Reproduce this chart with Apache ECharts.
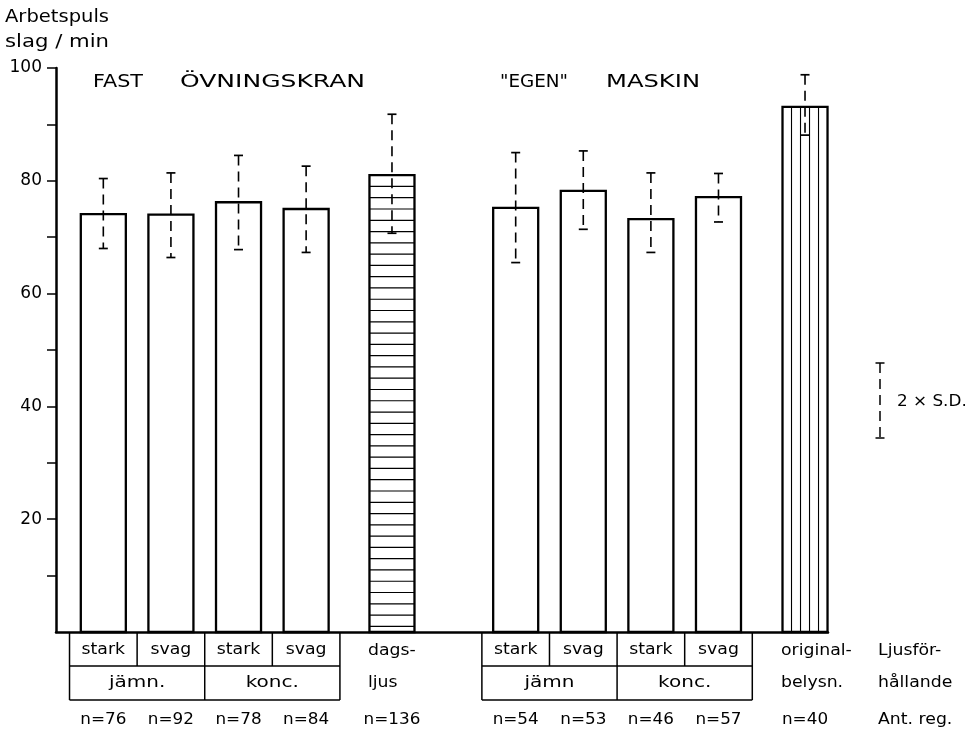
<!DOCTYPE html>
<html><head><meta charset="utf-8">
<script src="https://cdn.jsdelivr.net/npm/echarts@6/dist/echarts.min.js"></script>
<style>html,body{margin:0;padding:0;background:#fff}#c{width:967px;height:736px}</style>
</head><body><div id="c"></div>
<script>
// ---- data ----
const lightLabels = ['stark','svag','stark','svag','dagsljus','stark','svag','stark','svag','originalbelysn.'];
const means   = [74.1, 74.0, 76.2, 75.0, 81.0, 75.2, 78.2, 73.2, 77.1, 93.1];
const errHigh = [80.4, 81.4, 84.5, 82.6, 91.8, 85.0, 85.3, 81.4, 81.3, 98.8];
const errLow  = [68.0, 66.4, 67.8, 67.3, 70.7, 65.5, 71.4, 67.3, 72.7, 88.1];
const counts  = ['n=76','n=92','n=78','n=84','n=136','n=54','n=53','n=46','n=57','n=40'];
const yTickLabels = [20, 40, 60, 80, 100];
const yTickMarks = [10, 20, 30, 40, 50, 60, 70, 80, 90, 100];
const groupTitles = [['FAST', 'ÖVNINGSKRAN'], ['"EGEN"', 'MASKIN']];
const subGroups = [['jämn.', 'konc.'], ['jämn', 'konc.']];
const singleLabels = [['dags-', 'ljus'], ['original-', 'belysn.']];
const rowTitles = [['Ljusför-', 'hållande'], ['Ant. reg.']];
const yTitle = ['Arbetspuls', 'slag / min'];
const sdLabel = '2 × S.D.';

// ---- layout (positions, not data) ----
const slotPos = [0.7, 1.7, 2.7, 3.7, 4.97, 6.8, 7.8, 8.8, 9.8, 11.08];
const xMax = 11.42;
const barW = 0.666;
const hatch = {4: 'h', 9: 'v'};
const FONT = '"DejaVu Sans"';

const chart = echarts.init(document.getElementById('c'));

const mctx = document.createElement('canvas').getContext('2d');
function fit(text, size, width) {
  mctx.font = size + 'px ' + FONT;
  return width / mctx.measureText(text).width;
}
function txt(text, x, y, size, align, scale) {
  return {
    type: 'text', x: x, y: y, scaleX: scale || 1, originX: 0, originY: 0,
    style: { text: text, font: size + 'px ' + FONT, fill: '#000',
      textAlign: align || 'left', textVerticalAlign: 'middle',
      align: align || 'left', verticalAlign: 'middle' }
  };
}

const option = {
  animation: false,
  backgroundColor: '#fff',
  grid: { left: 56, right: 139, top: 68, bottom: 104, outerBoundsMode: 'none' },
  xAxis: {
    type: 'value', min: 0, max: xMax,
    axisLine: { show: true, onZero: false, lineStyle: { color: '#000', width: 2.5 } },
    axisTick: { show: false }, axisLabel: { show: false }, splitLine: { show: false }
  },
  yAxis: {
    type: 'value', min: 0, max: 100, interval: 10,
    axisLine: { show: true, lineStyle: { color: '#000', width: 2.5 } },
    axisTick: { show: true, length: 9, customValues: yTickMarks, lineStyle: { color: '#000', width: 1.5 } },
    axisLabel: {
      color: '#000', fontSize: 17, fontFamily: FONT, margin: 14,
      customValues: yTickLabels,
      formatter: v => yTickLabels.indexOf(v) >= 0 ? String(v) : ''
    },
    splitLine: { show: false }
  },
  series: [
    {
      type: 'custom', clip: false, z: 2,
      data: means.map((m, i) => [slotPos[i], m]),
      renderItem: function (params, api) {
        const i = params.dataIndex;
        const x = api.value(0), v = api.value(1);
        const w = api.size([barW, 0])[0];
        const p0 = api.coord([x, 0]), p1 = api.coord([x, v]);
        const left = p0[0] - w / 2, top = p1[1], h = p0[1] - p1[1];
        const ch = [{ type: 'rect', shape: { x: left, y: top, width: w, height: h }, style: { fill: '#fff' } }];
        if (hatch[i] === 'h') {
          for (let s = 1; s < v; s += 2) {
            const yy = api.coord([x, s])[1];
            ch.push({ type: 'line', shape: { x1: left, y1: yy, x2: left + w, y2: yy }, style: { stroke: '#000', lineWidth: 1.2 } });
          }
        }
        if (hatch[i] === 'v') {
          for (let k = 1; k < 5; k++) {
            const xx = left + w * k / 5;
            ch.push({ type: 'line', shape: { x1: xx, y1: top, x2: xx, y2: p0[1] }, style: { stroke: '#000', lineWidth: 1.1 } });
          }
        }
        ch.push({ type: 'rect', shape: { x: left, y: top, width: w, height: h }, style: { fill: null, stroke: '#000', lineWidth: 2.3 } });
        return { type: 'group', children: ch };
      }
    },
    {
      type: 'custom', clip: false, z: 3,
      data: means.map((m, i) => [slotPos[i], errLow[i], errHigh[i]]),
      renderItem: function (params, api) {
        const x = api.value(0);
        const pl = api.coord([x, api.value(1)]), ph = api.coord([x, api.value(2)]);
        const c = 4.5;
        return { type: 'group', children: [
          { type: 'line', shape: { x1: ph[0], y1: ph[1], x2: pl[0], y2: pl[1] }, style: { stroke: '#000', lineWidth: 1.6, lineDash: [10, 6] } },
          { type: 'line', shape: { x1: ph[0] - c, y1: ph[1], x2: ph[0] + c, y2: ph[1] }, style: { stroke: '#000', lineWidth: 1.7 } },
          { type: 'line', shape: { x1: pl[0] - c, y1: pl[1], x2: pl[0] + c, y2: pl[1] }, style: { stroke: '#000', lineWidth: 1.7 } }
        ] };
      }
    }
  ]
};
chart.setOption(option);

// ---- table & texts ----
const cx = slotPos.map(p => chart.convertToPixel({ xAxisIndex: 0 }, p));
const slotPx = chart.convertToPixel({ xAxisIndex: 0 }, 1) - chart.convertToPixel({ xAxisIndex: 0 }, 0);
const base = chart.convertToPixel({ yAxisIndex: 0 }, 0);
const r1 = base + 34, r2 = base + 68;
const g = [];
const L = (x1, y1, x2, y2) => ({ type: 'line', shape: { x1, y1, x2, y2 }, style: { stroke: '#000', lineWidth: 1.5 } });
[[0, 1, 2, 3], [5, 6, 7, 8]].forEach((idx, gi) => {
  const edges = [cx[idx[0]] - slotPx / 2];
  for (let k = 0; k < 3; k++) edges.push((cx[idx[k]] + cx[idx[k + 1]]) / 2);
  edges.push(cx[idx[3]] + slotPx / 2);
  g.push(L(edges[0], base, edges[0], r2));
  g.push(L(edges[4], base, edges[4], r2));
  g.push(L(edges[2], base, edges[2], r2));
  g.push(L(edges[1], base, edges[1], r1));
  g.push(L(edges[3], base, edges[3], r1));
  g.push(L(edges[0], r1, edges[4], r1));
  g.push(L(edges[0], r2, edges[4], r2));
  idx.forEach(i => g.push(txt(lightLabels[i], cx[i], (base + r1) / 2 + 1, 16, 'center', 1.08)));
  g.push(txt(subGroups[gi][0], (edges[0] + edges[2]) / 2, (r1 + r2) / 2, 16, 'center', 1.25));
  g.push(txt(subGroups[gi][1], (edges[2] + edges[4]) / 2, (r1 + r2) / 2, 16, 'center', 1.25));
});
// single columns
[[4, 0], [9, 1]].forEach(([i, k]) => {
  const x0 = cx[i] - 24;
  g.push(txt(singleLabels[k][0], x0, (base + r1) / 2 + 2, 16, 'left', 1.08));
  g.push(txt(singleLabels[k][1], x0, (r1 + r2) / 2, 16, 'left', 1.08));
});
counts.forEach((t, i) => g.push(txt(t, cx[i], 720, 16, 'center', 1.05)));
g.push(txt(rowTitles[0][0], 878, (base + r1) / 2 + 2, 16, 'left', 1.08));
g.push(txt(rowTitles[0][1], 878, (r1 + r2) / 2, 16, 'left', 1.08));
g.push(txt(rowTitles[1][0], 878, 720, 16, 'left', 1.08));
// titles
g.push(txt(yTitle[0], 5, 17, 18, 'left', fit(yTitle[0], 18, 104)));
g.push(txt(yTitle[1], 5, 42, 18, 'left', fit(yTitle[1], 18, 104)));
g.push(txt(groupTitles[0][0], 93, 82, 18, 'left', fit(groupTitles[0][0], 18, 50)));
g.push(txt(groupTitles[0][1], 180, 82, 18, 'left', fit(groupTitles[0][1], 18, 185)));
g.push(txt(groupTitles[1][0], 500, 82, 18, 'left', fit(groupTitles[1][0], 18, 68)));
g.push(txt(groupTitles[1][1], 606, 82, 18, 'left', fit(groupTitles[1][1], 18, 94)));
// S.D. legend
const lx = 880, ly1 = 363, ly2 = 438;
g.push({ type: 'line', shape: { x1: lx, y1: ly1, x2: lx, y2: ly2 }, style: { stroke: '#000', lineWidth: 1.5, lineDash: [10, 6] } });
g.push(L(lx - 4.5, ly1, lx + 4.5, ly1));
g.push(L(lx - 4.5, ly2, lx + 4.5, ly2));
g.push(txt(sdLabel, 897, 402, 16, 'left', 1.05));

chart.setOption({ graphic: { elements: g } });
</script>
</body></html>
